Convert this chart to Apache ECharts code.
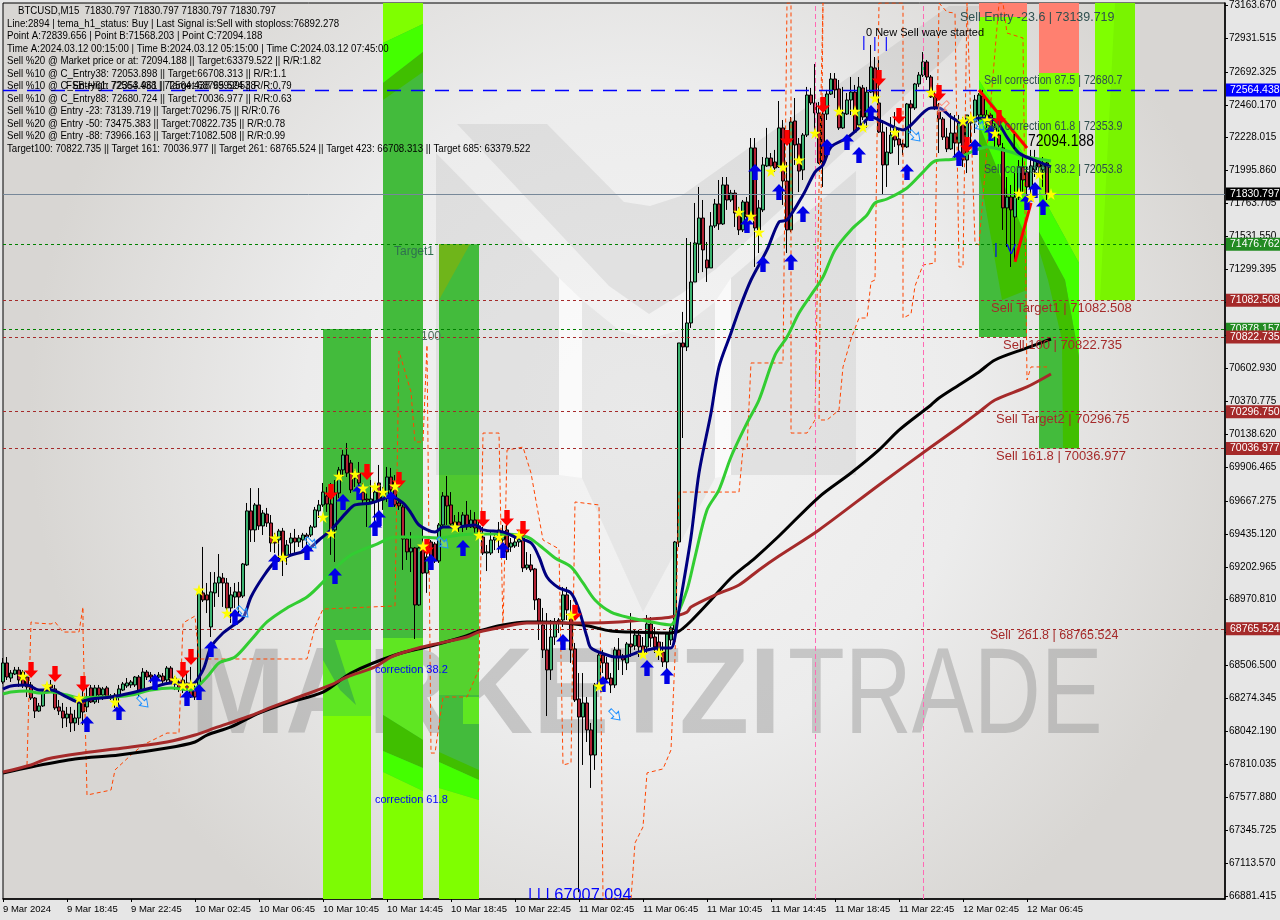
<!DOCTYPE html>
<html><head><meta charset="utf-8"><style>html,body{margin:0;padding:0;background:#e6e6e6}#c{width:1280px;height:920px}</style>
<script src="https://cdn.jsdelivr.net/npm/echarts@6/dist/echarts.min.js"></script></head><body><div id="c"></div><script>
const candles=[[68391,68525,68377,68560],[68525,68426,68405,68567],[68419,68454,68391,68475],[68447,68475,68440,68497],[68475,68405,68356,68497],[68461,68370,68349,68475],[68426,68356,68285,68440],[68370,68278,68264,68391],[68278,68186,68137,68285],[68186,68222,68179,68243],[68222,68313,68215,68327],[68370,68342,68320,68384],[68370,68349,68334,68405],[68342,68208,68194,68370],[68215,68186,68158,68264],[68186,68137,68066,68243],[68137,68165,68074,68215],[68165,68102,68038,68215],[68102,68137,68045,68194],[68137,68243,68088,68285],[68278,68179,68088,68349],[68215,68285,68179,68356],[68349,68250,68243,68370],[68250,68349,68236,68370],[68349,68299,68243,68370],[68299,68342,68264,68356],[68349,68285,68278,68363],[68292,68278,68264,68306],[68299,68243,68208,68313],[68292,68342,68215,68370],[68334,68377,68327,68391],[68363,68384,68349,68419],[68370,68391,68349,68405],[68370,68426,68356,68433],[68426,68313,68285,68440],[68334,68461,68320,68489],[68461,68426,68405,68475],[68440,68426,68384,68461],[68405,68426,68370,68447],[68426,68440,68419,68461],[68433,68398,68384,68454],[68405,68489,68391,68503],[68489,68391,68377,68503],[68419,68391,68334,68433],[68391,68349,68320,68405],[68405,68349,68313,68475],[68384,68334,68313,68454],[68384,68285,68278,68497],[68334,68285,68264,68391],[68349,69040,68334,69061],
[69019,68969,68955,69343],[69005,68969,68877,69089],[68779,69026,68708,69166],[69019,69089,68920,69166],[69089,69131,68990,69293],[69124,69089,68920,69159],[69089,68913,68877,69124],[68913,69005,68807,69061],[68990,69026,68913,69089],[69026,68990,68877,69096],[68997,69223,68983,69230],[69216,69597,69209,69653],[69597,69463,69378,69758],[69463,69639,69378,69653],[69639,69491,69463,69758],[69491,69582,69427,69603],[69575,69512,69484,69618],[69512,69371,69308,69568],[69413,69371,69301,69442],[69392,69455,69237,69470],[69455,69265,69138,69477],[69272,69357,69216,69392],[69371,69406,69286,69442],[69406,69378,69301,69470],[69378,69406,69343,69427],[69392,69427,69336,69442],[69427,69413,69343,69442],[69427,69484,69413,69498],[69484,69604,69477,69625],[69597,69639,69547,69674],[69639,69730,69625,69794],[69702,69646,69590,69766],[69646,69463,69287,69794],[69463,69723,69237,69815],[69723,69886,69688,69907],[69886,69991,69836,70027],[69991,69864,69836,70076],[69935,69745,69723,69956],[69829,69864,69766,69885],[69864,69794,69723,69942],[69730,69674,69639,69794],[69681,69674,69484,69723],[69660,69681,69646,69815],[69660,69730,69484,69794],[69794,69674,69568,69921],[69674,69730,69604,69766],[69688,69836,69660,69907],[69836,69745,69688,69900],[69801,69639,69625,69850],[69653,69632,69604,69674],
[69625,69399,69181,69639],[69399,69308,69251,69413],[69308,69336,69166,69448],[69336,68934,68694,69343],[68934,69336,68927,69343],[69343,69159,69152,69484],[69159,69272,69019,69378],[69378,69237,69181,69392],[69364,69244,69230,69378],[69244,69498,69230,69512],[69498,69702,69484,69730],[69702,69632,69498,69843],[69639,69505,69477,69730],[69519,69498,69463,69568],[69519,69484,69448,69589],[69484,69568,69448,69589],[69568,69484,69463,69667],[69484,69533,69477,69604],[69533,69477,69442,69589],[69491,69448,69413,69533],[69413,69300,69286,69484],[69300,69308,69173,69357],[69300,69392,69286,69463],[69392,69413,69321,69442],[69463,69392,69300,69519],[69392,69441,69321,69498],[69463,69308,69251,69603],[69343,69371,69308,69406],[69350,69378,69336,69413],[69378,69413,69343,69463],[69406,69195,69166,69427],[69195,69216,69181,69307],[69216,69181,69166,69293],[69188,68969,68899,69195],[68976,68814,68687,68983],[68793,68617,68560,68913],[68617,68476,68151,68877],[68476,68708,68405,68828],[68708,68814,68652,68842],[68828,68814,68736,68842],[68828,69005,68779,69061],[69005,68899,68828,69061],[68863,68617,68525,68969],[68624,68264,68250,68666],[68271,68144,66909,68454],[68144,68243,67806,68454],[68243,68053,67968,68285],[68053,67876,67644,68102],[67876,68370,67771,68384],[68370,68581,68349,68595],
[68581,68525,68454,68617],[68525,68412,68391,68567],[68419,68370,68313,68454],[68370,68617,68349,68638],[68617,68567,68475,68701],[68574,68546,68440,68588],[68525,68659,68475,68673],[68659,68638,68567,68877],[68645,68722,68617,68758],[68722,68638,68567,68758],[68645,68595,68567,68708],[68638,68800,68595,68863],[68800,68701,68638,68849],[68708,68638,68595,68778],[68673,68595,68546,68736],[68602,68532,68497,68673],[68532,68729,68461,68743],[68687,68772,68652,68800],[68758,69378,68666,69385],[69378,70781,69343,70781],[70781,70753,70111,71000],[70753,70922,70724,71521],[70922,71211,70887,71493],[71211,71486,71211,71768],[71479,71662,71274,71881],[71662,71437,71281,71789],[71366,71310,71211,71493],[71310,71606,71310,71704],[71606,71761,71592,71796],[71761,71620,71578,71930],[71620,71895,71613,71951],[71895,71789,71719,71951],[71789,71838,71775,71860],[71838,71697,71599,71860],[71697,71578,71542,71740],[71578,71775,71563,71789],[71775,71669,71648,71810],[71669,72156,71662,72226],[72156,71592,71317,72226],[71578,71733,71415,71789],[71719,72036,71704,72092],[72029,72085,72022,72297],[72085,72029,72015,72120],[72057,72015,71986,72142],[72022,72297,72015,72487],[72297,71923,71754,72353],[71923,71578,71415,72057],[71578,72339,71563,72374],[72346,72177,72036,72508],[72184,71993,71845,72226],
[72001,72247,71930,72261],[72247,72529,72233,72586],[72529,72473,72459,72579],[72473,72402,72261,72748],[72402,72050,72043,72480],[72395,72057,71881,72424],[72395,72536,72353,72565],[72536,72642,72529,72684],[72642,72565,72508,72684],[72572,72297,72283,72635],[72297,72402,72290,72586],[72395,72494,72388,72543],[72494,72550,72388,72656],[72550,72268,72261,72600],[72318,72586,72297,72656],[72579,72374,72353,72600],[72374,72550,72297,72586],[72550,72727,72543,72882],[72720,72508,72494,72797],[72473,72268,72261,72776],[72268,72036,71824,72353],[72036,72127,71881,72304],[72120,72247,72113,72374],[72290,72212,72163,72409],[72219,72177,72036,72283],[72184,72163,72106,72212],[72163,72466,72156,72473],[72466,72438,72261,72494],[72438,72607,72424,72614],[72607,72670,72586,72691],[72670,72762,72656,72832],[72762,72656,72635,72776],[72656,72515,72508,72670],[72515,72445,72424,72550],[72416,72360,72120,72473],[72360,72233,72212,72374],[72233,72149,72127,72297],[72149,72261,72142,72402],[72261,72191,72071,72388],[72191,72332,72092,72388],[72339,72071,72022,72374],[72071,72388,71979,72388],[72332,72353,72191,72374],[72339,72494,72261,72529],[72388,72529,72318,72543],[72522,72388,72353,72565],[72332,72388,72297,72424],[72388,72304,72261,72402],[72247,72297,72163,72332],[72247,72177,72163,72283],
[72156,71733,71578,72191],[71733,71810,71458,71951],[71810,71719,71317,71895],[71669,71810,71366,71979],[71810,72022,71789,72071],[72022,71930,71838,72092],[71986,71881,71754,72022],[71874,72029,71824,72142],[72001,72085,71951,72142],[72050,72022,71965,72071],[72001,72036,71881,72092],[72050,71830.797,71789,72057]];
const navyMA=[[0,68341],[2,68363],[6,68370],[9,68334],[12,68334],[16,68285],[19,68250],[22,68271],[27,68285],[32,68313],[37,68349],[42,68384],[47,68370],[50,68476],[52,68638],[55,68736],[57,68779],[60,68842],[62,68990],[65,69131],[68,69237],[72,69286],[76,69321],[79,69392],[82,69463],[86,69590],[88,69639],[92,69653],[97,69695],[100,69653],[102,69582],[104,69498],[108,69448],[110,69484],[113,69484],[118,69498],[120,69463],[125,69448],[128,69413],[132,69371],[134,69272],[136,69131],[139,69053],[142,69019],[144,68899],[146,68708],[147,68631],[151,68581],[153,68567],[155,68567],[159,68602],[164,68631],[167,68631],[168,68708],[169,68899],[172,69413],[174,69864],[177,70287],[179,70612],[182,70851],[184,71014],[187,71225],[191,71437],[194,71634],[196,71648],[200,71824],[203,71986],[205,72036],[207,72163],[211,72226],[214,72297],[217,72374],[220,72339],[225,72283],[227,72318],[232,72438],[234,72438],[237,72374],[240,72332],[244,72367],[248,72353],[251,72233],[254,72120],[259,72057],[262,72022]];
const greenMA=[[0,68306],[2,68320],[6,68327],[9,68313],[12,68320],[16,68299],[19,68278],[24,68285],[27,68285],[32,68299],[37,68334],[42,68349],[47,68334],[51,68426],[54,68525],[58,68567],[62,68687],[66,68814],[71,68913],[76,68990],[80,69096],[82,69166],[87,69286],[93,69357],[98,69413],[104,69413],[109,69406],[114,69427],[119,69434],[125,69434],[131,69413],[134,69357],[138,69265],[142,69202],[145,69089],[148,68969],[152,68884],[157,68842],[162,68814],[167,68793],[168,68828],[171,69040],[173,69272],[176,69603],[179,69745],[182,69977],[186,70217],[189,70379],[193,70696],[196,70823],[199,70992],[202,71119],[205,71246],[208,71437],[212,71578],[216,71683],[218,71768],[221,71796],[226,71874],[230,71986],[233,72064],[238,72078],[242,72127],[246,72163],[251,72134],[256,72092],[262,72064]];
const blackMA=[[0,67749],[7,67792],[18,67848],[29,67876],[41,67925],[48,67968],[51,68017],[57,68074],[64,68172],[71,68243],[80,68320],[87,68454],[98,68581],[107,68645],[115,68708],[119,68750],[125,68793],[131,68814],[135,68814],[145,68793],[152,68750],[157,68743],[166,68736],[169,68750],[172,68821],[177,68969],[182,69124],[188,69265],[194,69420],[204,69695],[212,69864],[219,70027],[224,70167],[232,70344],[234,70393],[239,70485],[244,70577],[248,70661],[256,70746],[262,70809]];
const brownMA=[[0,67756],[7,67806],[11,67848],[20,67890],[32,67933],[41,67968],[48,68017],[53,68067],[61,68144],[68,68222],[74,68285],[82,68370],[86,68426],[93,68497],[97,68567],[103,68624],[107,68652],[116,68708],[119,68743],[125,68779],[131,68807],[137,68807],[146,68807],[154,68814],[162,68835],[167,68849],[171,68884],[172,68920],[178,69004],[184,69075],[189,69181],[194,69279],[204,69463],[219,69780],[232,70048],[239,70189],[244,70294],[248,70379],[256,70471],[262,70562]];
const orangeEnvelope=[[6,67806],[7,68814],[8,68807],[12,68800],[13,68814],[15,68743],[19,68743],[20,68920],[20,68757],[21,67594],[27,67629],[28,67771],[32,67876],[35,67947],[41,68031],[44,68031],[45,68807],[48,68856],[49,68553],[76,68553],[78,68779],[80,68905],[98,68927],[99,70724],[102,70435],[103,70083],[105,70083],[106,70767],[107,67890],[108,67890],[110,68285],[116,68285],[119,68482],[120,70146],[124,70146],[125,68757],[126,70026],[130,70047],[132,69864],[135,69392],[139,69329],[140,67806],[142,67820],[143,69660],[149,69639],[150,66861],[157,66861],[158,67256],[160,67369],[161,67750],[165,67778],[167,67912],[168,68567],[169,69730],[184,69730],[185,70034],[186,70034],[187,70640],[195,70640],[196,73178],[197,73178],[197,70146],[201,70146],[203,70238],[204,71873],[205,73178],[204,70238],[206,70238],[209,70308],[210,70612],[212,70809],[214,70957],[216,70957],[217,71211],[218,71225],[219,73178],[225,73178],[225,70957],[226,70971],[227,70985],[228,71182],[230,71331],[233,71345],[234,73178],[236,73114],[238,73107],[239,71317],[240,71317],[241,73178],[243,71486],[244,71472],[249,73178],[250,73178],[251,72966],[255,72931],[256,70520],[257,70612],[261,70612]];
const redArrows=[[7,68476],[13,68447],[20,68377],[45,68476],[47,68567],[82,69730],[91,69871],[99,69815],[106,69343],[120,69540],[126,69547],[130,69470],[143,68877],[196,72226],[205,72459],[219,72649],[224,72381],[234,72543],[241,72177],[249,72367]];
const blueArrows=[[21,68095],[29,68179],[38,68391],[46,68278],[49,68320],[52,68624],[58,68849],[68,69237],[76,69307],[83,69138],[85,69660],[89,69730],[93,69477],[94,69547],[97,69681],[107,69237],[115,69336],[125,69322],[140,68673],[150,68377],[161,68490],[166,68433],[186,71613],[188,71986],[190,71338],[194,71845],[197,71352],[200,71690],[206,72163],[211,72198],[214,72106],[217,72402],[226,71986],[239,72085],[243,72163],[247,72261],[256,71775],[258,71860],[260,71740]];
const stars=[[5,68433],[11,68363],[19,68278],[28,68250],[43,68405],[45,68370],[47,68370],[49,69040],[56,68877],[68,69406],[70,69272],[80,69554],[82,69441],[84,69843],[88,69857],[90,69759],[93,69766],[95,69730],[98,69773],[105,69350],[113,69484],[119,69427],[124,69413],[129,69427],[142,68863],[149,68363],[160,68588],[164,68602],[184,71704],[187,71676],[189,71563],[192,71993],[195,72022],[199,72071],[203,72261],[209,72416],[213,72416],[215,72304],[218,72508],[223,72268],[232,72550],[240,72346],[242,72367],[246,72353],[248,72261],[254,71838],[257,71810],[259,71972],[262,71831]];
const hollowBlue=[[35,68250],[60,68884],[77,69371],[110,69371],[153,68158],[228,72240],[244,72318]];
const hollowPink=[[235,72445]];
const waveDown=[[244,72564],[256,72156]];
const waveUp=[[253,71352],[257,71768]];
const pinkVerticals=[203,230];
const hLevels=[[72564.438,'#0000ff','#0000ff',[14,10],1.4],[71830.797,'#778899','#000000','solid',1],[71476.762,'#008000','#228b22',[3,3],1],[71082.508,'#a52a2a','#a52a2a',[3,3],1],[70878.157,'#008000','#228b22',[3,3],1],[70822.735,'#a52a2a','#a52a2a',[3,3],1],[70296.750,'#a52a2a','#a52a2a',[3,3],1],[70036.977,'#a52a2a','#a52a2a',[3,3],1],[68765.524,'#a52a2a','#a52a2a',[3,3],1]];
const yTicks=[73163.670,72931.515,72692.325,72460.170,72228.015,71995.860,71763.705,71531.550,71299.395,71067.240,70835.085,70602.930,70370.775,70138.620,69906.465,69667.275,69435.120,69202.965,68970.810,68738.655,68506.500,68274.345,68042.190,67810.035,67577.880,67345.725,67113.570,66881.415];
const xLabels=['9 Mar 2024','9 Mar 18:45','9 Mar 22:45','10 Mar 02:45','10 Mar 06:45','10 Mar 10:45','10 Mar 14:45','10 Mar 18:45','10 Mar 22:45','11 Mar 02:45','11 Mar 06:45','11 Mar 10:45','11 Mar 14:45','11 Mar 18:45','11 Mar 22:45','12 Mar 02:45','12 Mar 06:45'];
const infoLines=[['BTCUSD,M15  71830.797 71830.797 71830.797 71830.797',18,11],['Line:2894 | tema_h1_status: Buy | Last Signal is:Sell with stoploss:76892.278',7,24],['Point A:72839.656 | Point B:71568.203 | Point C:72094.188',7,36],['Time A:2024.03.12 00:15:00 | Time B:2024.03.12 05:15:00 | Time C:2024.03.12 07:45:00',7,49],['Sell %20 @ Market price or at: 72094.188 || Target:63379.522 || R/R:1.82',7,61],['Sell %10 @ C_Entry38: 72053.898 || Target:66708.313 || R/R:1.1',7,74],['Sell %10 @ C_Entry61: 72353.961 || Target:68765.524 || R/R:0.79',7,86],['Sell %10 @ C_Entry88: 72680.724 || Target:70036.977 || R/R:0.63',7,99],['Sell %10 @ Entry -23: 73139.719 || Target:70296.75 || R/R:0.76',7,111],['Sell %20 @ Entry -50: 73475.383 || Target:70822.735 || R/R:0.78',7,124],['Sell %20 @ Entry -88: 73966.163 || Target:71082.508 || R/R:0.99',7,136],['Target100: 70822.735 || Target 161: 70036.977 || Target 261: 68765.524 || Target 423: 66708.313 || Target 685: 63379.522',7,149],['FSB-High 72564.438 | 72564.438 99999538',66,86]];
const annotations=[[239.25,73079,'Sell Entry -23.6 | 73139.719','#2f4f4f',13,.96],[245.25,72635,'Sell correction 87.5 | 72680.7','#2f4f4f',13,.82],[245.25,72311,'Sell correction 61.8 | 72353.9','#2f4f4f',13,.82],[245.25,72008,'Sell correction 38.2 | 72053.8','#2f4f4f',13,.82],[252.25,72205,'|','#000000',17,1],[256.25,72205,'72094.188','#000000',17,.82],[247,71027,'Sell Target1 | 71082.508','#a52a2a',13,1],[250,70767,'Sell 100 | 70822.735','#a52a2a',13,1],[248.25,70245,'Sell Target2 | 70296.75','#a52a2a',13,1],[248.25,69984,'Sell 161.8 | 70036.977','#a52a2a',13,1],[246.75,68715,'Sell  261.8 | 68765.524','#a52a2a',12.5,1],[97.75,71422,'Target1','#2f6f4f',12,1],[104.5,70823,'100','#4f6f5f',12,1],[93,68476,'correction 38.2','#0000ff',11,1],[93,67559,'correction 61.8','#0000ff',11,1],[215.75,72966,'0 New Sell wave started','#000000',11,1],[131.25,66885,'| | | 67007.094','#0000ff',17,.96],[214.75,72896,'|','#0000ff',14,1],[217.5,72885,'|  |','#0000ff',14,1],[247.75,71437,'|  V','#0000ff',15,1]];
const lime='#7fff00',bright='#44ff00',olive='#40bf00',forest='#43bb3c',mid='#5fe622',salmon='#ff8070';
const zones=[[80,92,70879,66861,forest],[95,105,73178,66861,forest],[109,119,71477,66861,forest],[244,256,73178,73079,salmon],[244,256,73079,70822.7,forest],[259,269,73178,72680.7,salmon],[259,269,72680.7,70037,forest],[273,283,73178,71082.5,lime]];
const zoneBands=[
 [mid,[[323,640],[371,640],[371,716],[323,716]]],
 [forest,[[323,640],[335,640],[356,705],[340,690],[323,660]]],
 ['#7dfb04',[[323,716],[371,716],[371,899],[323,899]]],
 [lime,[[383,3],[423,3],[423,24],[383,43]]],
 [bright,[[383,43],[423,24],[423,52],[383,83]]],
 [olive,[[383,83],[423,52],[423,72],[383,100]]],
 [mid,[[383,638],[423,638],[423,740],[383,715]]],
 [olive,[[383,715],[423,740],[423,768],[383,751]]],
 [bright,[[383,751],[423,768],[423,791],[383,772]]],
 [lime,[[383,772],[423,791],[423,899],[383,899]]],
 ['#6fb51a',[[439,244],[470,244],[439,300]]],
 ['#4fc830',[[439,475],[479,475],[479,640],[439,640]]],
 ['#55d22e',[[439,640],[479,640],[479,695],[439,695]]],
 [mid,[[463,697],[479,697],[479,724],[463,724]]],
 [olive,[[439,752],[479,770],[479,780],[439,762]]],
 [bright,[[439,762],[479,780],[479,800],[439,788]]],
 [lime,[[439,788],[479,800],[479,899],[439,899]]],
 [lime,[[979,17],[1027,17],[1027,160],[979,80]]],
 [bright,[[979,80],[1027,160],[1027,240],[979,125]]],
 [olive,[[979,125],[1027,240],[1027,290],[1002,300],[979,170]]],
 [lime,[[1039,73],[1079,73],[1079,263],[1039,190]]],
 [bright,[[1039,190],[1079,263],[1079,357],[1065,280],[1039,232]]],
 [olive,[[1039,232],[1065,280],[1079,357],[1079,448],[1063,448],[1062,340],[1048,280],[1039,250]]],
 ['#79f400',[[1115,3],[1135,3],[1135,300],[1100,300]]]
];
const chart=echarts.init(document.getElementById('c'),null,{renderer:'canvas'});
const FONT='"Liberation Sans"';
const upPath='path://M6.5,0 L13,7.5 L9,7.5 L9,16 L4,16 L4,7.5 L0,7.5 Z';
const downPath='path://M6.5,16 L13,8.5 L9,8.5 L9,0 L4,0 L4,8.5 L0,8.5 Z';
const starPath='path://M50,0 L61,35 L98,35 L68,57 L79,91 L50,70 L21,91 L32,57 L2,35 L39,35 Z';
const hollowPath='path://M6,0 L12,7 L8.2,7 L8.2,14 L3.8,14 L3.8,7 L0,7 Z';
const lineS=(data,color,width,z,smooth)=>({type:'line',data,symbol:'none',z,silent:true,smooth:smooth||false,lineStyle:{color,width},clip:true});
const scatter=(data,symbol,size,color,border,z,rot)=>({type:'scatter',data,symbol,symbolSize:size,symbolRotate:rot||0,z,silent:true,itemStyle:{color,borderColor:border,borderWidth:border?1:0,opacity:1}});
const poly=(pts,fill)=>({type:'polygon',z:-9,silent:true,shape:{points:pts},style:{fill}});
const wm=(text,x,font,scaleX)=>({type:'text',z:-8,silent:true,x,y:638,scaleX,style:{text,font,fill:'rgba(135,135,135,0.38)',verticalAlign:'top'}});
const GREY='rgba(120,120,120,0.13)';
const option={animation:false,backgroundColor:'#e6e6e6',
 grid:{left:3,right:55,top:3,bottom:21,outerBoundsMode:'none',show:true,borderColor:'#000',borderWidth:1,backgroundColor:'transparent'},
 tooltip:{show:false},
 xAxis:{type:'value',min:0,max:305.5,splitLine:{show:false},axisLine:{onZero:false,lineStyle:{color:'#000',width:1.5}},
  axisTick:{length:3,lineStyle:{color:'#000'},customValues:xLabels.map((_,i)=>i*16)},
  axisLabel:{customValues:xLabels.map((_,i)=>i*16),align:'left',hideOverlap:false,margin:5,color:'#000',fontFamily:FONT,fontSize:9.5,formatter:v=>xLabels[v/16]||''}},
 yAxis:{type:'value',position:'right',min:66860.97,max:73177.8,scale:true,splitLine:{show:false},axisLine:{onZero:false,lineStyle:{color:'#000',width:1.5}},
  axisTick:{length:3,lineStyle:{color:'#000'},customValues:yTicks},
  axisLabel:{customValues:yTicks,hideOverlap:false,margin:4,color:'#000',fontFamily:FONT,fontSize:10,formatter:v=>v.toFixed(3)}},
 graphic:{elements:[
  {type:'rect',z:-10,silent:true,shape:{x:3,y:3,width:1222,height:896},style:{fill:new echarts.graphic.RadialGradient(.52,.46,.68,[{offset:0,color:'#f4f4f4'},{offset:.55,color:'#ececec'},{offset:1,color:'#d8d6d3'}])}},
  poly([[457,124],[547,124],[624,202],[650,206],[681,196],[949,6],[980,6],[956,49],[716,269],[681,294],[649,314],[609,286]],GREY),
  poly([[436,153],[559,278],[559,475],[436,475]],GREY),
  poly([[582,300],[620,331],[649,339],[677,331],[715,302],[715,478],[643,612],[582,478]],'rgba(120,120,120,0.09)'),
  poly([[731,278],[856,171],[856,475],[731,475]],GREY),
  poly([[559,278],[582,300],[582,478],[559,475]],'rgba(255,255,255,0.6)'),
  poly([[715,302],[731,278],[731,475],[715,478]],'rgba(255,255,255,0.6)'),
  wm('MARKETZI',190,'bold 123px "Liberation Sans"',.93),
  wm('TRADE',788,'123px "Liberation Sans"',.755),
  ...zoneBands.map(b=>({type:'polygon',z:2,silent:true,shape:{points:b[1]},style:{fill:b[0]}})),
  ...infoLines.map(l=>({type:'text',z:100,silent:true,x:l[1],y:l[2],scaleX:.88,style:{text:l[0],font:'11px '+FONT,fill:'#000',verticalAlign:'middle'}}))
 ]},
 series:[
  {type:'custom',z:1,silent:true,clip:true,data:zones.map((_,i)=>[i]),encode:{x:-1,y:-1},renderItem:(p,api)=>{const z=zones[api.value(0)];const a=api.coord([z[0],z[2]]),b=api.coord([z[1],z[3]]);
    return {type:'rect',shape:{x:a[0],y:a[1],width:b[0]-a[0],height:b[1]-a[1]},style:{fill:z[4]}};}},
  {type:'line',data:[],z:4,silent:true,symbol:'none',markLine:{silent:true,symbol:'none',animation:false,data:pinkVerticals.map(v=>({xAxis:v,lineStyle:{color:'#ff69b4',type:[5,3],width:1},label:{show:false}}))}},
  {type:'candlestick',z:3,silent:true,barWidth:3,clip:true,encode:{x:0,y:[1,2,3,4]},data:candles.map((c,i)=>[i,c[0],c[1],c[2],c[3]]),itemStyle:{color:'#3cb371',color0:'#b22234',borderColor:'#000',borderColor0:'#000',borderWidth:1}},
  {...lineS(orangeEnvelope,'#ff4500',1,4),lineStyle:{color:'#ff4500',width:1,type:[4,3]}},
  lineS(blackMA,'#000',3,5,.3),
  lineS(brownMA,'#a52a2a',3,5,.3),
  lineS(greenMA,'#32cd32',3,6,.3),
  lineS(navyMA,'#000080',3,7,.3),
  lineS(waveDown,'#ff0000',3,8),
  lineS(waveUp,'#ff0000',3,8),
  scatter(hollowBlue,hollowPath,[10,14],'rgba(255,255,255,0.25)','#1e90ff',9,-135),
  scatter(hollowPink,hollowPath,[10,14],'rgba(255,255,255,0.25)','#ff8c7a',9,135),
  scatter(redArrows,downPath,[14,16],'#ff0000',null,10),
  scatter(blueArrows,upPath,[14,16],'#0000e6',null,10),
  scatter(stars,starPath,[12,12],'#ffff00',null,11),
  {type:'line',data:[],z:12,silent:true,symbol:'none',markLine:{silent:true,symbol:'none',animation:false,precision:3,data:hLevels.map(l=>({yAxis:l[0],lineStyle:{color:l[1],type:l[3],width:l[4]},label:{show:true,position:'end',distance:1,formatter:l[0].toFixed(3),color:'#fff',backgroundColor:l[2],padding:[1,3,1,4],fontFamily:FONT,fontSize:10.5}}))}},
  {type:'custom',z:13,silent:true,clip:true,data:annotations.map((_,i)=>[i]),encode:{x:-1,y:-1},renderItem:(p,api)=>{const t=annotations[api.value(0)];const c=api.coord([t[0],t[1]]);
    return {type:'text',x:c[0],y:c[1],scaleX:t[5],style:{text:t[2],fill:t[3],font:t[4]+'px '+FONT,verticalAlign:'middle',align:'left'}};}}
 ]};
chart.setOption(option);
</script></body></html>
